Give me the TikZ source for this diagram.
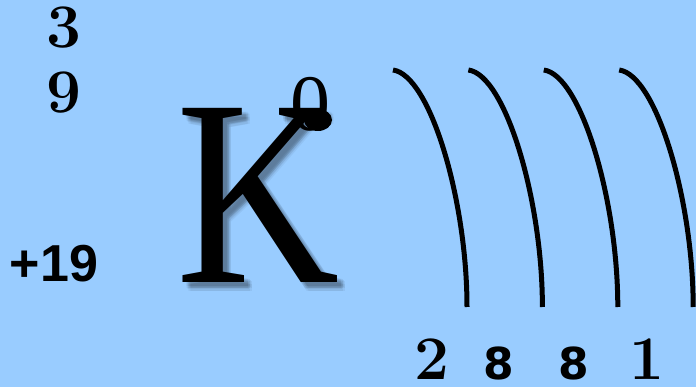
\documentclass[tikz,border=0pt]{standalone}
\usepackage{fontspec}
\newfontfamily\tnr{Liberation Serif}
\newfontfamily\arialf{Liberation Sans}
\newfontfamily\dejav{DejaVu Sans}
\definecolor{bg}{RGB}{153,204,255}
\begin{document}
\begin{tikzpicture}[x=1pt,y=-1pt,
  shell/.style={line width=5pt, black},
  cmnum/.style={anchor=base, inner sep=0pt, font=\bfseries\fontsize{62}{62}\selectfont},
  sansnum/.style={anchor=base, inner sep=0pt, font=\dejav\bfseries\fontsize{44}{44}\selectfont},
  bigK/.style={anchor=base, inner sep=0pt, xscale=0.85, font=\tnr\fontsize{266}{266}\selectfont}]
\fill[bg] (0,0) rectangle (696,387);
\useasboundingbox (0,0) rectangle (696,387);
% mass / atomic numbers
\node[cmnum] (n3) at (63.5,48) {3};
\node[cmnum] (n9) at (64,113) {9};
\node[anchor=base, inner sep=0pt, font=\arialf\bfseries\fontsize{52}{52}\selectfont] (charge) at (54,282) {+19};
% shadow of K
\foreach \dx/\dy in {4/4,6/6,8/8,5/7,7/5,6/4,4/6,8/6,6/8}{
  \node[bigK, text=black, opacity=0.05] at (258+\dx,283+\dy) {K};
}
\node[bigK] (K) at (258,283) {K};
\node[anchor=base, inner sep=0pt, font=\tnr\fontsize{80}{80}\selectfont] (sup) at (310,131) {0};
\fill[black] (318,120) ellipse [x radius=14, y radius=11];
% shells
\foreach \i in {0,1,2,3}{
  \draw[shell] (393+75.4*\i,70) .. controls (430+75.4*\i,75) and (467+75.4*\i,200) .. (467+75.4*\i,307);
}
% electrons
\node[cmnum] (e1) at (432,379) {2};
\node[sansnum] (e2) at (498.5,379) {8};
\node[sansnum] (e3) at (574,379) {8};
\node[cmnum] (e4) at (647,379) {1};
\end{tikzpicture}
\end{document}
